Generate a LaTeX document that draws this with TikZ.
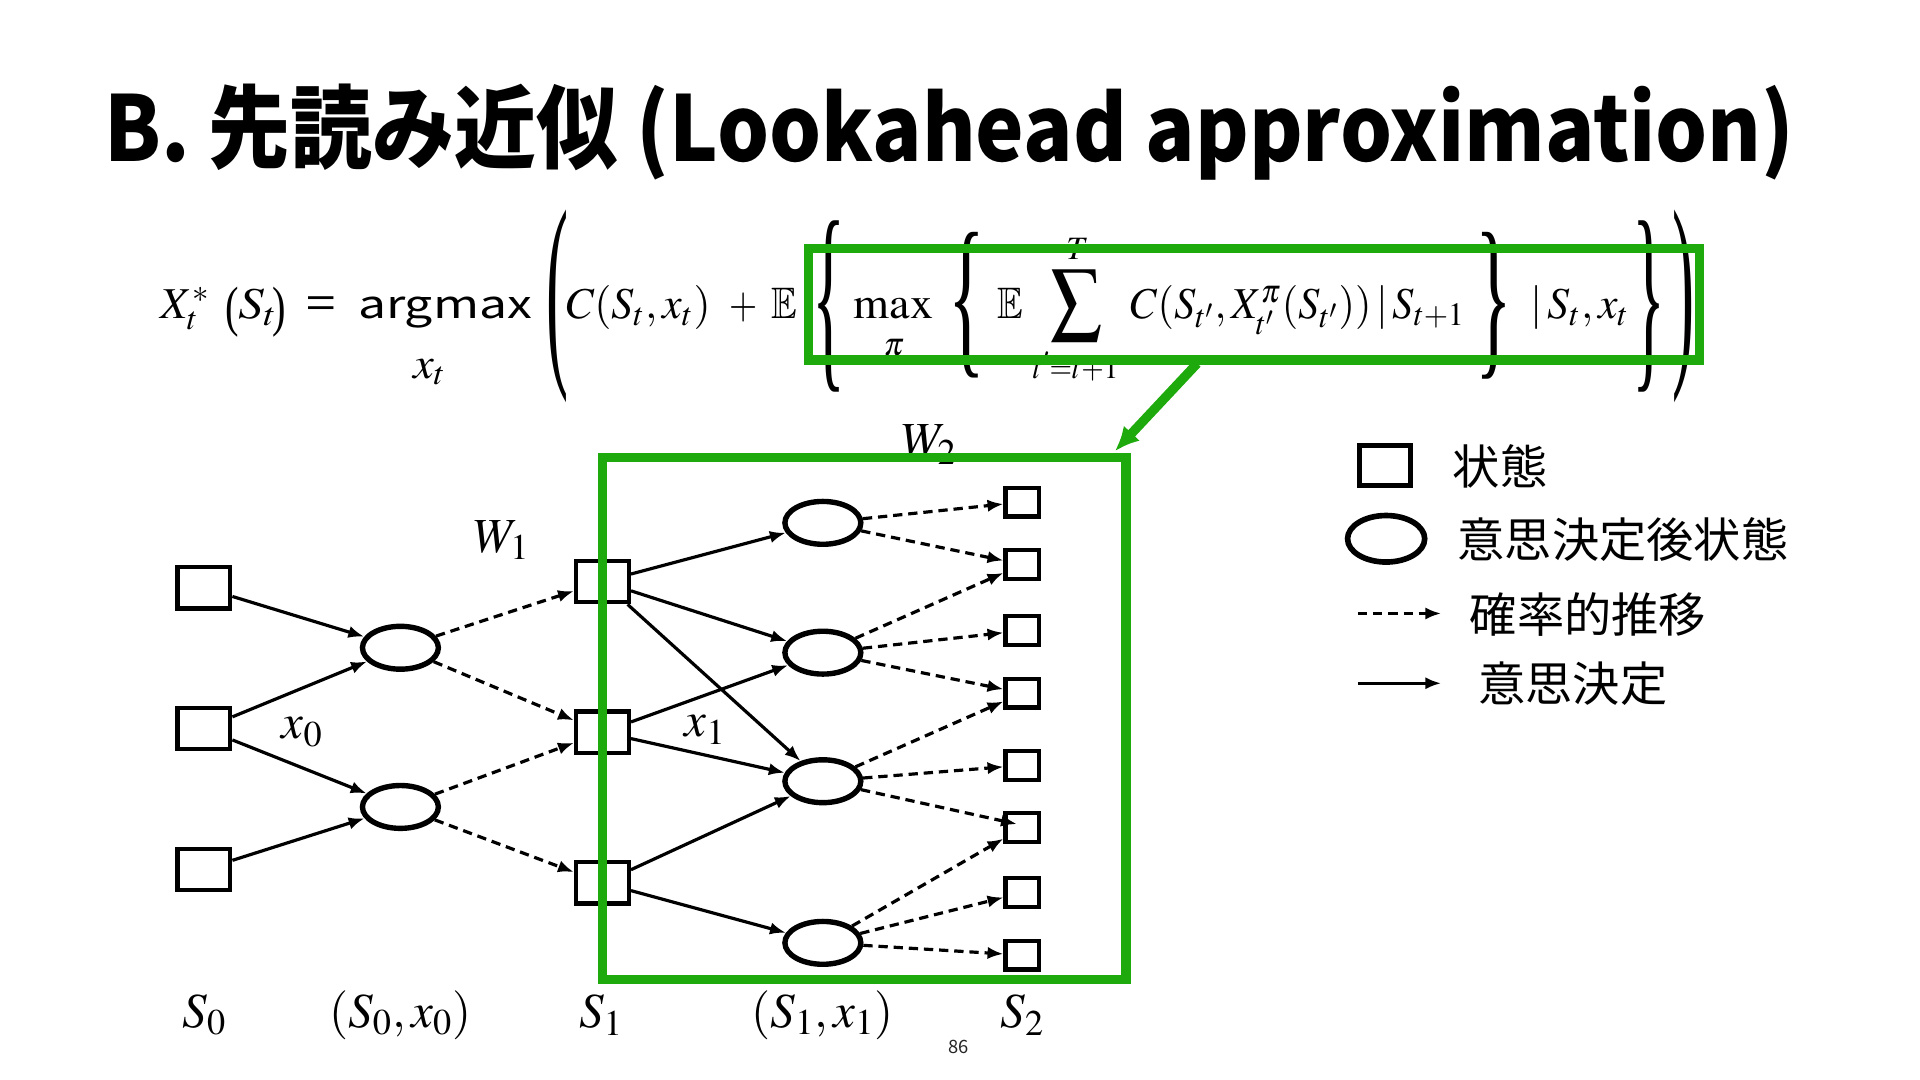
\documentclass[tikz,border=0pt]{standalone}
\usepackage{amsmath}
\usepackage{mathptmx}
\usepackage{amssymb}
\usepackage[no-math]{fontspec}
\newfontfamily\jp{Noto Sans CJK JP}
\newfontfamily\tms{Liberation Serif}
\usetikzlibrary{arrows.meta,shapes.geometric,calc}
\definecolor{grn}{RGB}{30,170,12}
\newcommand{\hfit}[2]{\resizebox{#1}{\height}{#2}}
\newcommand{\tdel}[3]{\resizebox*{#1}{#2}{\tms\fontsize{20}{20}\selectfont #3}}
\tikzset{
  sqA/.style={draw, line width=1.8pt, minimum width=21.5pt, minimum height=16.8pt, inner sep=0pt},
  sqB/.style={draw, line width=1.7pt, minimum width=13.8pt, minimum height=11.8pt, inner sep=0pt},
  elA/.style={draw, ellipse, line width=2.2pt, minimum width=31pt, minimum height=17.5pt, inner sep=0pt},
  sol/.style={line width=1.3pt, -{Latex[length=6.5pt,width=5pt]}},
  dsh/.style={sol, dash pattern=on 3.8pt off 2.4pt},
  lbl/.style={inner sep=0pt, font=\fontsize{20}{24}\selectfont},
  leg/.style={inner sep=0pt, anchor=west, font=\jp\fontsize{19.3}{23}\selectfont},
  fm/.style={inner sep=0pt, anchor=base west, font=\fontsize{18}{21}\selectfont},
  fc/.style={inner sep=0pt, anchor=center, font=\fontsize{18}{21}\selectfont},
  fb/.style={inner sep=0pt, anchor=base, font=\fontsize{18}{21}\selectfont},
  gbx/.style={draw=grn, line width=3.8pt, inner sep=0pt}
}
\begin{document}
\begin{tikzpicture}[x=0.5pt, y=-0.5pt]
\useasboundingbox (0,0) rectangle (1568,882);
\fill[white] (0,0) rectangle (1568,882);

% title
\node[anchor=base west, inner sep=0pt, font=\jp\bfseries\fontsize{37}{44}\selectfont] (title) at (85,132) {\hfit{690pt}{B. 先読み近似 (Lookahead approximation)}};

% formula, piece by piece
\node[fm] (fX) at (131,260.5) {\hfit{20pt}{$X_t^{*}$}};
\node[fc] (fpS1) at (189.5,255) {\tdel{5.5pt}{20.5pt}{(}};
\node[fm] (fS) at (194,260.5) {\hfit{16pt}{$S_t$}};
\node[fc] (fpS2) at (228,255) {\tdel{5.5pt}{20.5pt}{)}};
\node[fm, font=\jp\fontsize{17}{20}\selectfont] (feq) at (250,260.5) {\hfit{12pt}{=}};
\node[fm, font=\jp\fontsize{15.8}{19}\selectfont] (farg) at (292,260.5) {\hfit{71pt}{argmax}};
\node[fm] (fxt) at (337,309) {\hfit{13.5pt}{$x_t$}};
\node[fc] (fpl) at (455.5,250.2) {\tdel{9pt}{78.75pt}{(}};
\node[fm] (fC) at (462,260.5) {\hfit{59pt}{$C(S_t, x_t)$}};
\node[fm] (fplus) at (595,260.5) {\hfit{11.5pt}{$+$}};
\node[fm] (fE1) at (630,260.5) {\hfit{10.5pt}{$\mathbb{E}$}};
\node[fc] (fbl1) at (677,250) {\tdel{13.5pt}{70pt}{\{}};
\node[fm] (fmax) at (697,260.5) {\hfit{32.5pt}{$\max$}};
\node[fb] (fpi) at (730,290) {$\scriptstyle\pi$};
\node[fc] (fbl2) at (789.5,249.5) {\tdel{15pt}{59.5pt}{\{}};
\node[fm] (fE2) at (814,260.5) {\hfit{10.5pt}{$\mathbb{E}$}};
\node[fc] (fsum) at (878.75,249.75) {\resizebox*{21.25pt}{29.25pt}{$\displaystyle\sum$}};
\node[fb] (fT) at (880,212) {$\scriptstyle T$};
\node[fm] (flow) at (843,309) {\hfit{35pt}{$\scriptstyle t'=t+1$}};
\node[fm] (fin) at (923,260.5) {\hfit{136.5pt}{$C(S_{t'}, X^{\pi}_{t'}(S_{t'}))\,|\,S_{t+1}$}};
\node[fc] (fbr2) at (1220,250) {\tdel{15pt}{60pt}{\}}};
\node[fm] (fcond) at (1249.5,260.5) {\hfit{40.25pt}{$|\,S_t, x_t$}};
\node[fc] (fbr1) at (1346.5,250) {\tdel{13.5pt}{70pt}{\}}};
\node[fc] (fpr) at (1375,250.2) {\tdel{9pt}{78.75pt}{)}};

% S0 column
\node[sqA] (S0a) at (166.5,480) {};
\node[sqA] (S0b) at (166.5,595) {};
\node[sqA] (S0c) at (166.5,710) {};
% post-decision 0
\node[elA] (E0a) at (327,529) {};
\node[elA] (E0b) at (327,659) {};
% S1 column
\node[sqA] (S1a) at (492,475) {};
\node[sqA] (S1b) at (492,598) {};
\node[sqA] (S1c) at (492,721) {};
% post-decision 1
\node[elA] (E1a) at (672,427) {};
\node[elA] (E1b) at (672,533) {};
\node[elA] (E1c) at (672,638) {};
\node[elA] (E1d) at (672,770) {};
% S2 column
\node[sqB] (T1) at (835,410) {};
\node[sqB] (T2) at (835,461) {};
\node[sqB] (T3) at (835,515) {};
\node[sqB] (T4) at (835,566) {};
\node[sqB] (T5) at (835,625) {};
\node[sqB] (T6) at (835,676) {};
\node[sqB] (T7) at (835,729) {};
\node[sqB] (T8) at (835,780) {};

% decisions
\draw[sol] (S0a) -- (E0a);
\draw[sol] (S0b) -- (E0a);
\draw[sol] (S0b) -- (E0b);
\draw[sol] (S0c) -- (E0b);
\draw[sol] (S1a) -- (E1a);
\draw[sol] (S1a) -- (E1b);
\draw[sol] (S1a) -- (E1c);
\draw[sol] (S1b) -- (E1b);
\draw[sol] (S1b) -- (E1c);
\draw[sol] (S1c) -- (E1c);
\draw[sol] (S1c) -- (E1d);
% stochastic transitions
\draw[dsh] (E0a) -- (S1a);
\draw[dsh] (E0a) -- (S1b);
\draw[dsh] (E0b) -- (S1b);
\draw[dsh] (E0b) -- (S1c);
\draw[dsh] (E1a) -- (T1);
\draw[dsh] (E1a) -- (T2);
\draw[dsh] (E1b) -- (T2);
\draw[dsh] (E1b) -- (T3);
\draw[dsh] (E1b) -- (T4);
\draw[dsh] (E1c) -- (T4);
\draw[dsh] (E1c) -- (T5);
\coordinate (T6in) at ($(T6.west)+(11,-3)$);
\draw[dsh] (E1c) -- (T6in);
\draw[dsh] (E1d) -- (T6);
\draw[dsh] (E1d) -- (T7);
\draw[dsh] (E1d) -- (T8);

% labels
\node[lbl] (W1) at (410,441) {$W_1$};
\node[lbl] (W2) at (759,363) {$W_2$};
\node[lbl] (x0) at (247,598) {$x_0$};
\node[lbl] (x1) at (576,596) {$x_1$};
\node[lbl] (bS0) at (167,829) {$S_0$};
\node[lbl] (bE0) at (327,829) {$(S_0, x_0)$};
\node[lbl] (bS1) at (491,829) {$S_1$};
\node[lbl] (bE1) at (672,829) {$(S_1, x_1)$};
\node[lbl] (bS2) at (835,829) {$S_2$};

% page number
\node[inner sep=0pt, font=\jp\fontsize{7.5}{9}\selectfont, text=black!85] (pg) at (783,855) {86};

% legend
\node[draw, line width=2pt, minimum width=21pt, minimum height=16.5pt, inner sep=0pt] (lsq) at (1131,380) {};
\node[leg] (lsqt) at (1186,381) {状態};
\node[draw, ellipse, line width=2.3pt, minimum width=31.5pt, minimum height=19pt, inner sep=0pt] (lel) at (1132,440) {};
\node[leg] (lelt) at (1190,441) {意思決定後状態};
\coordinate (ld1) at (1109,501);
\coordinate (ld2) at (1177,501);
\draw[dsh] (ld1) -- (ld2);
\node[leg] (ldt) at (1200,502) {確率的推移};
\coordinate (ls1) at (1109,558);
\coordinate (ls2) at (1177,558);
\draw[sol] (ls1) -- (ls2);
\node[leg] (lst) at (1207,558) {意思決定};

% green highlight boxes
\node[gbx, minimum width=364pt, minimum height=45.5pt] (fbox) at (1024,248.5) {};
\node[gbx, minimum width=213.75pt, minimum height=213.25pt] (gbox) at (705.75,586.75) {};
\coordinate (ga) at ($(fbox.south west)+(321.5,-1)$);
\coordinate (gb) at (910.5,368.5);
\draw[grn, line width=3.8pt, -{Latex[length=10pt,width=9pt]}] (ga) -- (gb);
\end{tikzpicture}
\end{document}
